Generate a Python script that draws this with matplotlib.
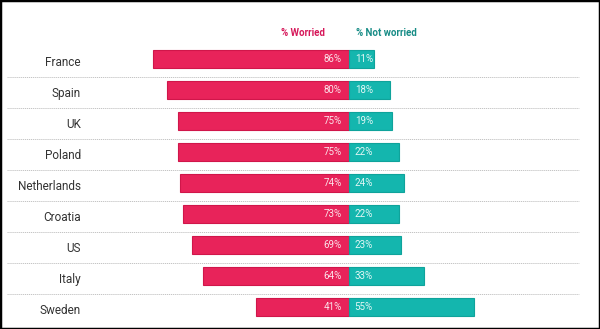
import matplotlib
matplotlib.use("Agg")
import matplotlib.pyplot as plt
from matplotlib.patches import Rectangle

countries = ["France", "Spain", "UK", "Poland", "Netherlands", "Croatia", "US", "Italy", "Sweden"]
worried = [86, 80, 75, 75, 74, 73, 69, 64, 41]
not_worried = [11, 18, 19, 22, 24, 22, 23, 33, 55]

W_COL = "#E8235A"
W_EDGE = "#D0164A"
N_COL = "#14B6AE"
N_EDGE = "#0FA39B"

plt.rcParams['font.family'] = ['Roboto', 'DejaVu Sans']

fig = plt.figure(figsize=(6.0, 3.29), dpi=100)
ax = fig.add_axes([0, 0, 1, 1])
scale = 2.28  # px per percent
x0 = 349
ax.set_xlim(-x0 / scale, (600 - x0) / scale)
ax.set_ylim((329 - 59) / 31, (0 - 59) / 31)
ax.axis('off')

ys = list(range(len(countries)))
ax.barh(ys, [-v for v in worried], height=0.6, color=W_COL, edgecolor=W_EDGE, linewidth=0.8)
ax.barh(ys, not_worried, height=0.6, color=N_COL, edgecolor=N_EDGE, linewidth=0.8)

for y, c, w, n in zip(ys, countries, worried, not_worried):
    ax.text((81 - x0) / scale, y + 0.12, c, ha='right', va='center', fontsize=8.5, color='#333333')
    ax.text(-3.2, y, f"{w}%", ha='right', va='center', fontsize=7, color='#FBE3EA')
    ax.text(2.5, y, f"{n}%", ha='left', va='center', fontsize=7, color='#E3F7F5')

for i in range(len(countries) - 1):
    ax.plot([(7 - x0) / scale, (579 - x0) / scale], [i + 0.58, i + 0.58],
            color='#C4C4C4', lw=0.7, ls=(0, (1.2, 0.8)))

ax.text((325 - x0) / scale, -0.85, "% Worried", ha='right', va='center',
        fontsize=7, fontweight='bold', color='#D6185A')
ax.text((356 - x0) / scale, -0.85, "% Not worried", ha='left', va='center',
        fontsize=7, fontweight='bold', color='#178C86')

fig.patches.append(Rectangle((0, 0), 1, 1, transform=fig.transFigure, fill=False,
                             edgecolor='black', linewidth=2.5))
fig.savefig("out.png", dpi=100)
